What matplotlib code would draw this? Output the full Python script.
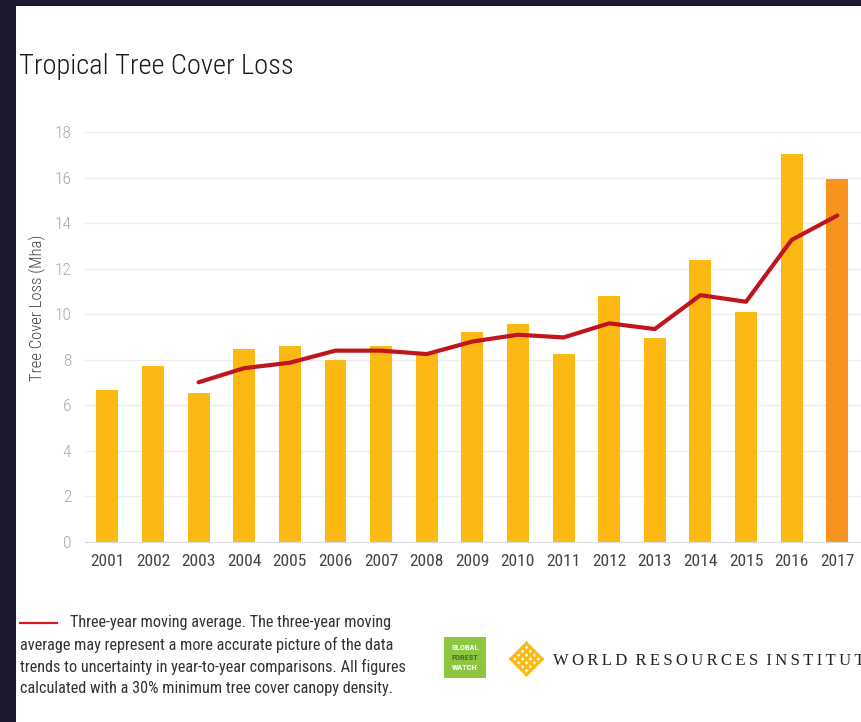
import matplotlib
matplotlib.use('Agg')
import matplotlib.pyplot as plt
from matplotlib import font_manager as fm
from matplotlib.patches import Rectangle
from matplotlib.lines import Line2D

# Data (million hectares)
years = [2001, 2002, 2003, 2004, 2005, 2006, 2007, 2008, 2009,
         2010, 2011, 2012, 2013, 2014, 2015, 2016, 2017]
loss = [6.67, 7.74, 6.54, 8.49, 8.61, 7.99, 8.60, 8.34, 9.22,
        9.59, 8.24, 10.80, 8.97, 12.39, 10.09, 17.05, 15.94]
avg_years = years[2:]
moving_avg = [7.01, 7.63, 7.87, 8.40, 8.40, 8.25, 8.80, 9.10, 8.98,
              9.60, 9.35, 10.84, 10.55, 13.27, 14.34]
y_ticks = [0, 2, 4, 6, 8, 10, 12, 14, 16, 18]

W, H = 861, 722

# pick a condensed sans if one is installed
installed = {f.name for f in fm.fontManager.ttflist}
candidates = ['Roboto Condensed', 'Archivo Narrow', 'PT Sans Narrow', 'Liberation Sans Narrow',
              'Barlow Condensed', 'Fira Sans Condensed', 'IBM Plex Sans Condensed',
              'Encode Sans Condensed', 'Asap Condensed', 'Open Sans Condensed']
NARROW = [c for c in candidates if c in installed][:1] + ['DejaVu Sans']

fig = plt.figure(figsize=(W / 100, H / 100), dpi=100)
fig.patch.set_facecolor('#1c1a30')
# white card behind everything
fig.patches.append(Rectangle((16 / W, 0), 1, (H - 6) / H, transform=fig.transFigure,
                             facecolor='white', edgecolor='none', zorder=-5))

ax = fig.add_axes([85 / W, (H - 541.7) / H, (W - 85) / W, (541.7 - 132.3) / H])
ax.set_facecolor('white')

x = list(range(len(years)))
colors = ['#fdb913'] * (len(years) - 1) + ['#f7941d']
ax.bar(x, loss, width=0.48, color=colors, zorder=2)
ax.plot([years.index(y) for y in avg_years], moving_avg, color='#c1151d', lw=3.0,
        solid_capstyle='round', solid_joinstyle='round', zorder=3)

ax.set_xlim(-0.49, 16.52)
ax.set_ylim(0, 18)
ax.set_yticks(y_ticks)
ax.set_xticks(x)
ax.set_xticklabels([str(y) for y in years])
ax.grid(axis='y', color='#eeeeee', lw=1, zorder=0)
ax.set_axisbelow(True)
for s in ['top', 'right', 'left']:
    ax.spines[s].set_visible(False)
ax.spines['bottom'].set_color('#dddddd')
ax.tick_params(length=0)
ax.tick_params(axis='y', pad=10, labelcolor='#a8a8a8')
ax.tick_params(axis='x', pad=9, labelcolor='#444444')
for lab in ax.get_yticklabels():
    lab.set_family(NARROW)
    lab.set_fontsize(12.5)
    lab.set_fontweight('light')
for lab in ax.get_xticklabels():
    lab.set_family(NARROW)
    lab.set_fontsize(12.5)

fig.text(37 / W, 1 - 308 / H, 'Tree Cover Loss (Mha)', rotation=90, ha='center', va='center',
         fontsize=12, color='#444444', family=NARROW, fontweight='light')

fig.text(19 / W, 1 - 66 / H, 'Tropical Tree Cover Loss', ha='left', va='center',
         fontsize=20.5, color='#1a1a1a', family=NARROW, fontweight='light')

# footnote
fig.lines.append(Line2D([20 / W, 57 / W], [1 - 623 / H, 1 - 623 / H], transform=fig.transFigure,
                        color='#d7191f', lw=1.6))
fig.text(70 / W, 1 - 623 / H, 'Three-year moving average. The three-year moving',
         ha='left', va='center', fontsize=11.7, color='#333333', family=NARROW)
notes = ['average may represent a more accurate picture of the data',
         'trends to uncertainty in year-to-year comparisons. All figures',
         'calculated with a 30% minimum tree cover canopy density.']
for i, line in enumerate(notes):
    fig.text(20 / W, 1 - (645 + 22 * i) / H, line, ha='left', va='center',
             fontsize=11.7, color='#333333', family=NARROW)

# Global Forest Watch badge
fig.patches.append(Rectangle((444 / W, 1 - 678 / H), 42 / W, 41 / H, transform=fig.transFigure,
                             facecolor='#8dc63f', edgecolor='none'))
for i, (word, c) in enumerate([('GLOBAL', 'white'), ('FOREST', '#4d6b2a'), ('WATCH', 'white')]):
    fig.text(465 / W, 1 - (648 + 10 * i) / H, word, ha='center', va='center', fontsize=6,
             fontweight='bold', color=c, family=NARROW)

# WRI lattice mark: a square grid turned 45 degrees
cx, cy, a = 526.5, 659, 11.0
steps = [-a, -a / 2, 0, a / 2, a]
for u in steps:
    for horiz in (True, False):
        pts = [(u, -a), (u, a)] if horiz else [(-a, u), (a, u)]
        xs = [(cx + (p - q) / 2 ** 0.5) / W for p, q in pts]
        ys = [1 - (cy + (p + q) / 2 ** 0.5) / H for p, q in pts]
        fig.lines.append(Line2D(xs, ys, transform=fig.transFigure, color='#fdb913', lw=2.2))

wri = '\u2009'.join('WORLD RESOURCES INSTITUTE').replace('\u2009 \u2009', '  ')
fig.text(553 / W, 1 - 661 / H, wri, ha='left', va='center', fontsize=12, color='#222222',
         family=['Liberation Serif', 'DejaVu Serif'])

fig.savefig('out.png', dpi=100, facecolor=fig.get_facecolor())
